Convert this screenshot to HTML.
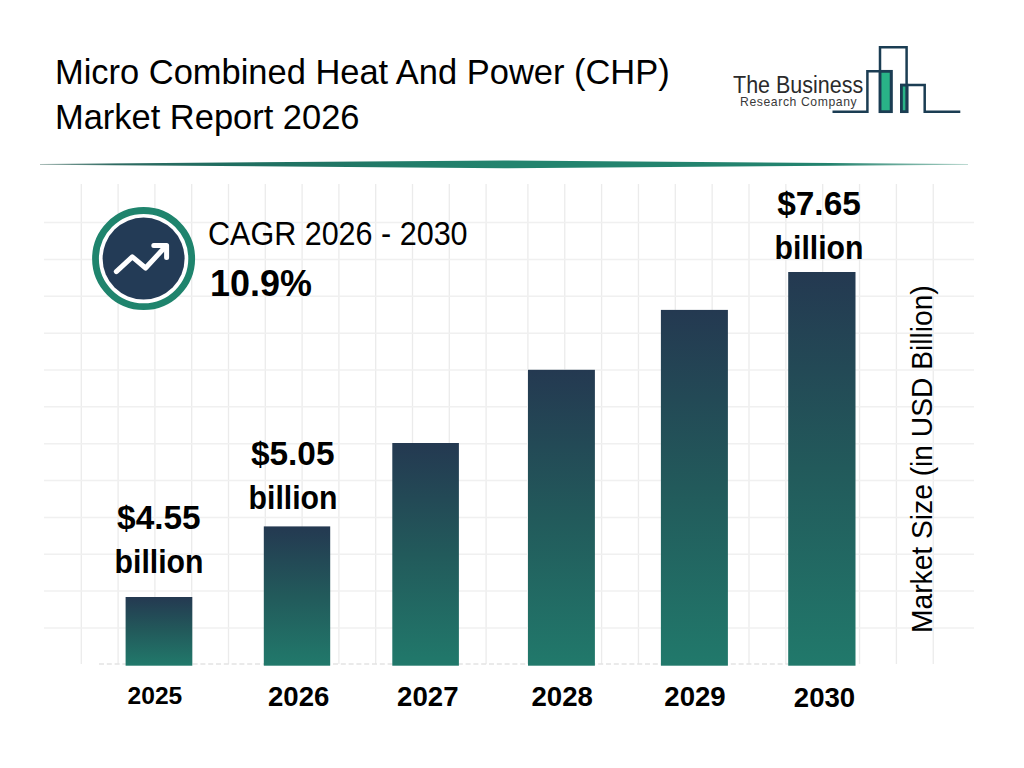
<!DOCTYPE html>
<html><head><meta charset="utf-8">
<style>
html,body{margin:0;padding:0;background:#fff;}
body{width:1024px;height:768px;position:relative;overflow:hidden;font-family:"Liberation Sans",sans-serif;color:#111;}
svg{position:absolute;left:0;top:0;}
.t{position:absolute;white-space:nowrap;line-height:1;}
.title{font-size:35.9px;transform-origin:0 0;transform:scaleX(0.96);color:#000;}
.lbl{font-weight:bold;font-size:33.4px;color:#000;transform:translateX(-50%);}
.bil{transform:translateX(-50%) scaleX(0.904);}
.yr{font-weight:bold;font-size:27.6px;color:#000;transform:translateX(-50%);}
</style></head><body>
<svg width="1024" height="768" viewBox="0 0 1024 768">
<defs>
<linearGradient id="g0" x1="0" y1="0" x2="0" y2="1"><stop offset="0" stop-color="#243951"/><stop offset="0.5" stop-color="#225a5b"/><stop offset="1" stop-color="#21796b"/></linearGradient>
<linearGradient id="g1" x1="0" y1="0" x2="0" y2="1"><stop offset="0" stop-color="#243951"/><stop offset="0.5" stop-color="#225a5b"/><stop offset="1" stop-color="#21796b"/></linearGradient>
<linearGradient id="g2" x1="0" y1="0" x2="0" y2="1"><stop offset="0" stop-color="#243951"/><stop offset="0.5" stop-color="#225a5b"/><stop offset="1" stop-color="#21796b"/></linearGradient>
<linearGradient id="g3" x1="0" y1="0" x2="0" y2="1"><stop offset="0" stop-color="#243951"/><stop offset="0.5" stop-color="#225a5b"/><stop offset="1" stop-color="#21796b"/></linearGradient>
<linearGradient id="g4" x1="0" y1="0" x2="0" y2="1"><stop offset="0" stop-color="#243951"/><stop offset="0.5" stop-color="#225a5b"/><stop offset="1" stop-color="#21796b"/></linearGradient>
<linearGradient id="g5" x1="0" y1="0" x2="0" y2="1"><stop offset="0" stop-color="#243951"/><stop offset="0.5" stop-color="#225a5b"/><stop offset="1" stop-color="#21796b"/></linearGradient>
<linearGradient id="div" x1="0" y1="0" x2="1" y2="0"><stop offset="0" stop-color="#8fa8a2"/><stop offset="0.08" stop-color="#2f6b62"/><stop offset="0.2" stop-color="#1f6d5f"/><stop offset="0.5" stop-color="#23846e"/><stop offset="0.85" stop-color="#23836e"/><stop offset="1" stop-color="#a9cfc4"/></linearGradient>
</defs>
<polygon points="40,163.9 504,160.5 968,163.9 968,164.7 504,168.2 40,164.7" fill="url(#div)"/>
<g stroke="#ebebeb" stroke-width="1.3" fill="none">
<line x1="81.30" y1="184" x2="81.30" y2="664"/>
<line x1="118.10" y1="184" x2="118.10" y2="664"/>
<line x1="154.90" y1="184" x2="154.90" y2="664"/>
<line x1="191.70" y1="184" x2="191.70" y2="664"/>
<line x1="228.50" y1="184" x2="228.50" y2="664"/>
<line x1="265.30" y1="184" x2="265.30" y2="664"/>
<line x1="302.10" y1="184" x2="302.10" y2="664"/>
<line x1="338.90" y1="184" x2="338.90" y2="664"/>
<line x1="375.70" y1="184" x2="375.70" y2="664"/>
<line x1="412.50" y1="184" x2="412.50" y2="664"/>
<line x1="449.30" y1="184" x2="449.30" y2="664"/>
<line x1="486.10" y1="184" x2="486.10" y2="664"/>
<line x1="527.90" y1="184" x2="527.90" y2="664"/>
<line x1="564.75" y1="184" x2="564.75" y2="664"/>
<line x1="601.60" y1="184" x2="601.60" y2="664"/>
<line x1="638.45" y1="184" x2="638.45" y2="664"/>
<line x1="675.30" y1="184" x2="675.30" y2="664"/>
<line x1="712.15" y1="184" x2="712.15" y2="664"/>
<line x1="749.00" y1="184" x2="749.00" y2="664"/>
<line x1="785.85" y1="184" x2="785.85" y2="664"/>
<line x1="822.70" y1="184" x2="822.70" y2="664"/>
<line x1="859.55" y1="184" x2="859.55" y2="664"/>
<line x1="896.40" y1="184" x2="896.40" y2="664"/>
<line x1="933.25" y1="184" x2="933.25" y2="664"/>
</g>
<g stroke="#f0f0f0" stroke-width="1.5" fill="none">
<line x1="44" y1="222.60" x2="974" y2="222.60"/>
<line x1="44" y1="259.45" x2="974" y2="259.45"/>
<line x1="44" y1="296.30" x2="974" y2="296.30"/>
<line x1="44" y1="333.15" x2="974" y2="333.15"/>
<line x1="44" y1="370.00" x2="974" y2="370.00"/>
<line x1="44" y1="406.85" x2="974" y2="406.85"/>
<line x1="44" y1="443.70" x2="974" y2="443.70"/>
<line x1="44" y1="480.55" x2="974" y2="480.55"/>
<line x1="44" y1="517.40" x2="974" y2="517.40"/>
<line x1="44" y1="554.25" x2="974" y2="554.25"/>
<line x1="44" y1="591.10" x2="974" y2="591.10"/>
<line x1="44" y1="627.95" x2="974" y2="627.95"/>
</g>
<line x1="99" y1="664.1" x2="788" y2="664.1" stroke="#e3e3e3" stroke-width="1.5" stroke-dasharray="5 2.8"/>
<rect x="125.6" y="597" width="66.7" height="68.7" fill="url(#g0)"/>
<rect x="263.8" y="526.4" width="66.4" height="139.3" fill="url(#g1)"/>
<rect x="392.3" y="443" width="66.6" height="222.7" fill="url(#g2)"/>
<rect x="528" y="369.8" width="66.9" height="295.9" fill="url(#g3)"/>
<rect x="660.9" y="309.9" width="67.0" height="355.8" fill="url(#g4)"/>
<rect x="788.2" y="272" width="67.3" height="393.7" fill="url(#g5)"/>
<!-- CAGR circle -->
<circle cx="143.6" cy="258.6" r="48.1" fill="#fff" stroke="#1f846d" stroke-width="6.8"/>
<circle cx="143.6" cy="258.6" r="41" fill="#233b56"/>
<g stroke="#fff" stroke-width="5" fill="none" stroke-linecap="round" stroke-linejoin="round">
<polyline points="116.3,271.6 132.3,256.8 145.6,268 165.8,246.2"/>
<polyline points="153.8,245.5 166.6,245.5 166.6,257.6"/>
</g>
<!-- logo -->
<g stroke="#1b3d53" stroke-width="2.5" fill="none">
<rect x="880" y="71.2" width="11.5" height="40.6" fill="#29b387"/>
<rect x="901.3" y="85.1" width="6" height="26.7" fill="#29b387"/>
<polyline points="832.5,111.8 867.4,111.8 867.4,71.2 891,71.2 891,111.8 880,111.8 880,47.3 906.6,47.3 906.6,111.8 901.3,111.8 901.3,85.1 924.7,85.1 924.7,111.8 960.3,111.8"/>
</g>
</svg>
<div class="t title" style="top:54.5px;left:55px">Micro Combined Heat And Power (CHP)</div>
<div class="t title" style="top:99.5px;left:55px">Market Report 2026</div>
<div class="t" style="left:733px;top:74.1px;font-size:23px;color:#2b2b2b;transform-origin:0 0;transform:scaleX(0.935)">The Business</div>
<div class="t" style="left:740px;top:96px;font-size:12.2px;letter-spacing:0.6px;color:#3a3a3a">Research Company</div>
<div class="t" style="left:208.3px;top:217.8px;font-size:32.3px;color:#000;transform-origin:0 0;transform:scaleX(0.945)">CAGR 2026 - 2030</div>
<div class="t" style="left:210px;top:264.5px;font-size:37.5px;font-weight:bold;color:#000;transform-origin:0 0;transform:scaleX(0.958)">10.9%</div>
<div class="t lbl" style="left:158.9px;top:500.7px">$4.55</div>
<div class="t lbl bil" style="left:158.9px;top:544.6px">billion</div>
<div class="t lbl" style="left:292.7px;top:436.8px">$5.05</div>
<div class="t lbl bil" style="left:292.6px;top:481.1px">billion</div>
<div class="t lbl" style="left:819px;top:186.8px">$7.65</div>
<div class="t lbl bil" style="left:818.9px;top:231.1px">billion</div>
<div class="t yr" style="left:154.9px;top:684.4px;font-size:24.6px">2025</div>
<div class="t yr" style="left:298.7px;top:682.9px">2026</div>
<div class="t yr" style="left:427.8px;top:682.9px">2027</div>
<div class="t yr" style="left:562.2px;top:682.9px">2028</div>
<div class="t yr" style="left:695px;top:682.9px">2029</div>
<div class="t yr" style="left:824.5px;top:684.1px">2030</div>
<div class="t" style="left:908px;top:633px;font-size:29px;color:#000;transform-origin:0 0;transform:rotate(-90deg) scaleX(0.972)">Market Size (in USD Billion)</div>
</body></html>
